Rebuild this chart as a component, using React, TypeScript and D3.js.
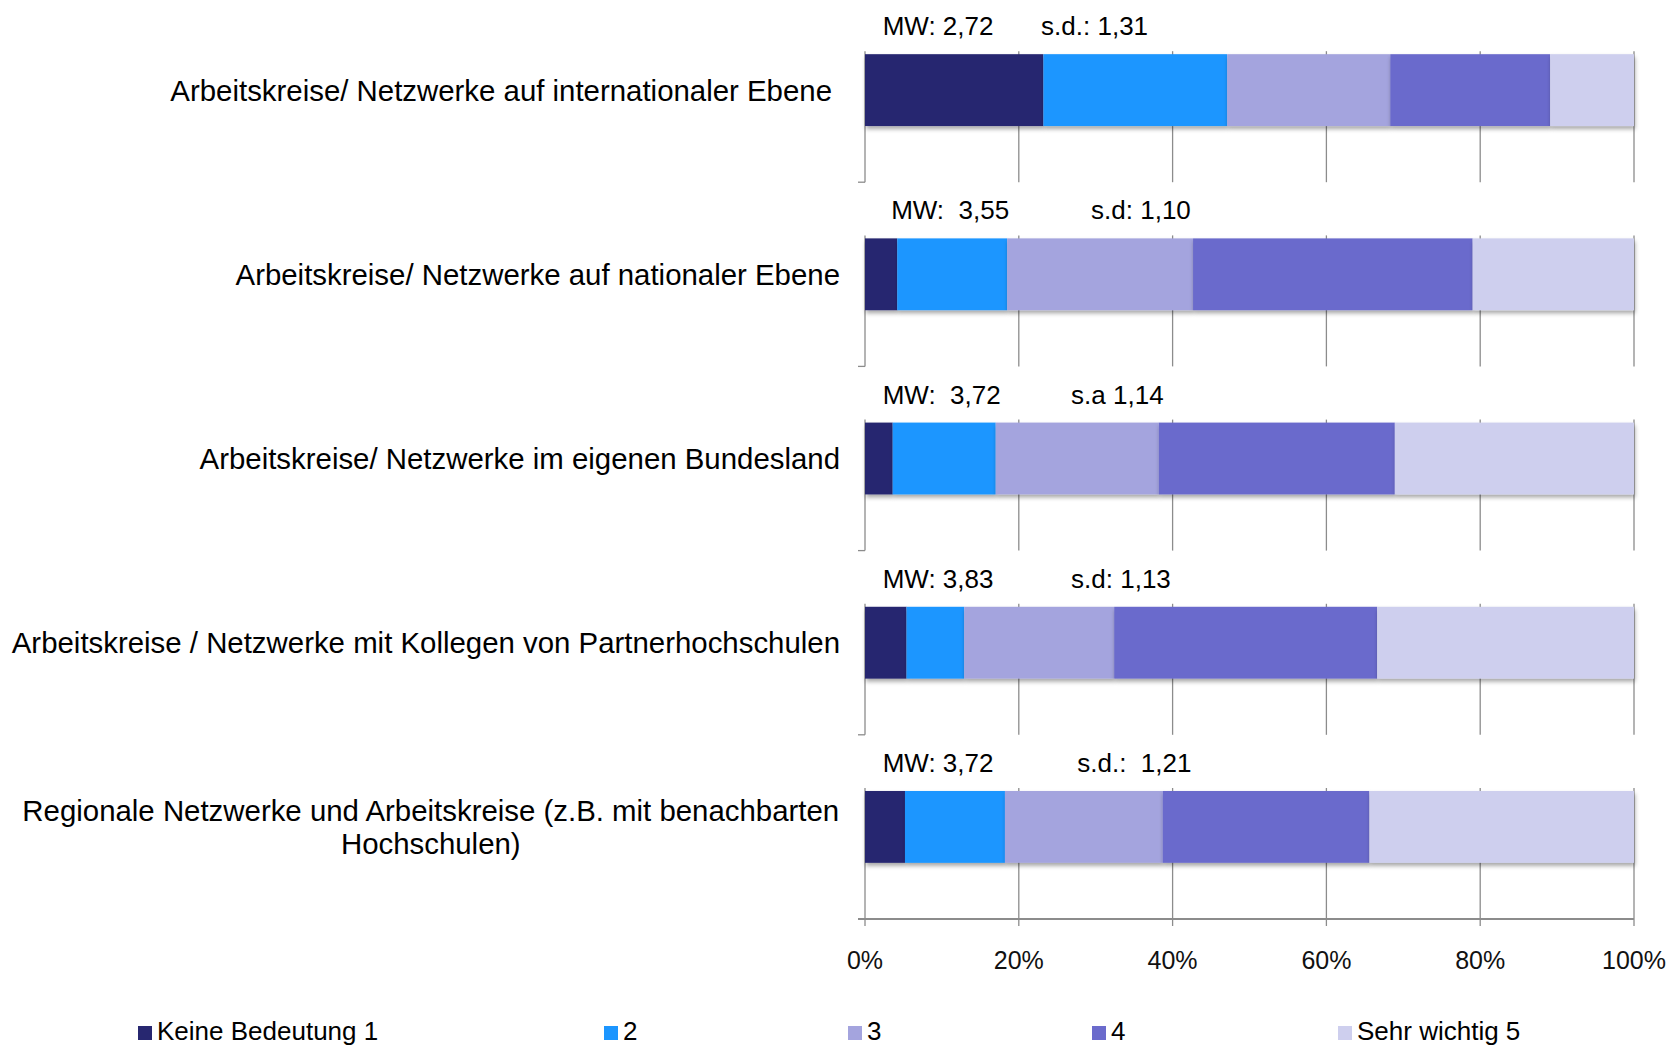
import * as d3 from "d3";
import React from "react";

const categories = [
  "Arbeitskreise/ Netzwerke auf internationaler Ebene",
  "Arbeitskreise/ Netzwerke auf nationaler Ebene",
  "Arbeitskreise/ Netzwerke im eigenen Bundesland",
  "Arbeitskreise / Netzwerke mit Kollegen von Partnerhochschulen",
  "Regionale Netzwerke und Arbeitskreise (z.B. mit benachbarten\nHochschulen)",
];

const levels = ["Keine Bedeutung 1", "2", "3", "4", "Sehr wichtig 5"];

// percent of answers per level, one value per category
const level1 = [23.2, 4.2, 3.6, 5.4, 5.2];
const level2 = [23.9, 14.3, 13.4, 7.5, 13.0];
const level3 = [21.2, 24.2, 21.2, 19.5, 20.5];
const level4 = [20.8, 36.4, 30.7, 34.2, 26.9];
const level5 = [10.9, 21.0, 31.1, 33.4, 34.4];

const meanLabels = ["MW: 2,72", "MW:  3,55", "MW:  3,72", "MW: 3,83", "MW: 3,72"];
const sdLabels = ["s.d.: 1,31", "s.d: 1,10", "s.a 1,14", "s.d: 1,13", "s.d.:  1,21"];

const xTicks = [0, 0.2, 0.4, 0.6, 0.8, 1];

const colors = ["#272770", "#1c96ff", "#a4a4de", "#6b6bcc", "#cecfee"];

const W = 1679;
const H = 1047;
const FONT = "'Liberation Sans', Arial, Helvetica, sans-serif";

// where the text boxes sit, as a share of the axis
const mwAt = [0.023, 0.034, 0.023, 0.023, 0.023];
const sdAt = [0.229, 0.294, 0.268, 0.268, 0.276];
const legendX = [138, 604, 848, 1092, 1338];

function textWidth(s: string, font: string) {
  const c = document.createElement("canvas").getContext("2d");
  if (!c) return s.length * 14;
  c.font = font;
  return c.measureText(s).width;
}

export default function App() {
  const rows = categories.map((c, i) => ({
    cat: c,
    l1: level1[i],
    l2: level2[i],
    l3: level3[i],
    l4: level4[i],
    l5: level5[i],
  }));
  const keys = ["l1", "l2", "l3", "l4", "l5"];
  const series = d3
    .stack<any>()
    .keys(keys)
    .offset(d3.stackOffsetExpand)(rows);

  const x = d3.scaleLinear().domain([0, 1]).range([865, 1634]);
  const y = d3.scaleBand<string>().domain(categories).range([-2, 919]);
  const barH = y.bandwidth() * 0.39;
  const barTop = (c: string) => y(c)! + (y.bandwidth() - barH) / 2;
  const bottom = y.range()[1];
  const labelRight = 840;
  const labelSize = 29.4;

  return (
    <div style={{ position: "fixed", left: 0, top: 0, background: "#fff" }}>
      <svg width={W} height={H} style={{ display: "block" }} fontFamily={FONT}>
        <defs>
          <filter id="shadow" x="-5%" y="-20%" width="110%" height="160%">
            <feDropShadow dx="1" dy="3" stdDeviation="2" floodColor="#000" floodOpacity="0.35" />
          </filter>
        </defs>
        <rect width={W} height={H} fill="#fff" />

        {/* grid pieces per row */}
        {categories.map((c) => (
          <g key={"g" + c} stroke="#8c8c8c" strokeWidth={1.3}>
            {xTicks.map((t) => (
              <line key={t} x1={x(t)} x2={x(t)} y1={barTop(c) - 3} y2={y(c)! + y.step()} />
            ))}
            <line x1={x(0) - 7} x2={x(0)} y1={y(c)! + y.step()} y2={y(c)! + y.step()} />
          </g>
        ))}

        {/* bottom axis */}
        <g stroke="#8c8c8c" strokeWidth={2}>
          <line x1={x(0) - 7} x2={x(1)} y1={bottom} y2={bottom} />
          {xTicks.map((t) => (
            <line key={t} x1={x(t)} x2={x(t)} y1={bottom} y2={bottom + 7} strokeWidth={1.3} />
          ))}
        </g>
        {xTicks.map((t) => (
          <text key={t} x={x(t)} y={bottom + 50} textAnchor="middle" fontSize={25} fill="#111">
            {d3.format(".0%")(t)}
          </text>
        ))}

        {/* bars */}
        {series.map((s, k) => (
          <g key={s.key} fill={colors[k]} filter="url(#shadow)">
            {s.map((d) => (
              <rect
                key={d.data.cat}
                x={x(d[0])}
                width={x(d[1]) - x(d[0])}
                y={barTop(d.data.cat)}
                height={barH}
              />
            ))}
          </g>
        ))}

        {/* category labels */}
        {categories.map((c, i) => {
          const lines = c.split("\n");
          const cy = y(c)! + y.bandwidth() / 2;
          const lh = 33.3;
          const first = cy - ((lines.length - 1) * lh) / 2 + labelSize * 0.355;
          const right = i === 0 ? labelRight - 8 : labelRight;
          if (lines.length === 1) {
            return (
              <text key={c} x={right} y={first} textAnchor="end" fontSize={labelSize} fill="#000">
                {c}
              </text>
            );
          }
          const wMax = d3.max(lines, (l) => textWidth(l, `${labelSize}px ${FONT}`)) ?? 0;
          return (
            <text key={c} x={right - wMax / 2} y={first} textAnchor="middle" fontSize={labelSize} fill="#000">
              {lines.map((l, j) => (
                <tspan key={j} x={right - wMax / 2} dy={j === 0 ? 0 : lh}>
                  {l}
                </tspan>
              ))}
            </text>
          );
        })}

        {/* MW / s.d. notes */}
        {categories.map((c, i) => (
          <g key={"n" + c} fontSize={26} fill="#000">
            <text x={x(mwAt[i])} y={barTop(c) - 19} xmlSpace="preserve" style={{ whiteSpace: "pre" }}>
              {meanLabels[i]}
            </text>
            <text x={x(sdAt[i])} y={barTop(c) - 19} xmlSpace="preserve" style={{ whiteSpace: "pre" }}>
              {sdLabels[i]}
            </text>
          </g>
        ))}

        {/* legend */}
        {levels.map((l, k) => (
          <g key={l} transform={`translate(${legendX[k]},1026)`}>
            <rect width={14} height={14} fill={colors[k]} />
            <text x={19} y={14} fontSize={26} fill="#000">
              {l}
            </text>
          </g>
        ))}
      </svg>
    </div>
  );
}
